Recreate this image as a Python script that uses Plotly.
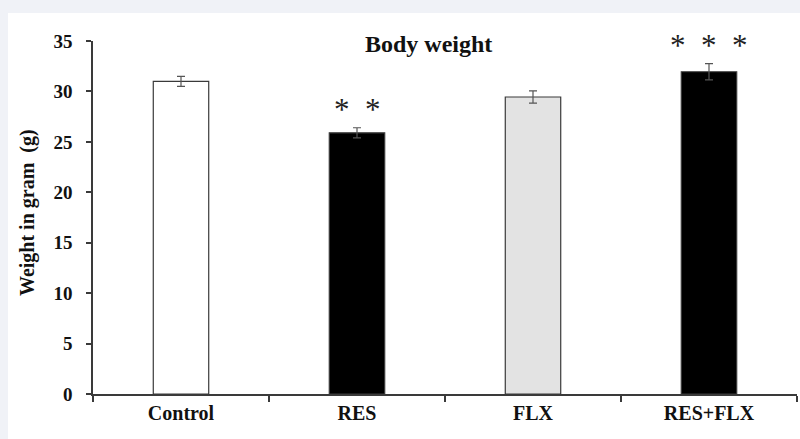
import plotly.graph_objects as go

categories = ["Control", "RES", "FLX", "RES+FLX"]
weights = [31.0, 25.9, 29.45, 31.95]
errors = [0.5, 0.5, 0.6, 0.8]
significance = ["", "* *", "", "* * *"]
bar_colors = ["#ffffff", "#000000", "#e3e3e3", "#000000"]
y_ticks = [0, 5, 10, 15, 20, 25, 30, 35]

W, H = 800, 439
ML, MR, MT, MB = 93, 3, 41, 45
pw, ph = W - ML - MR, H - MT - MB

SERIF = "Liberation Serif, Times New Roman, serif"

fig = go.Figure()
fig.add_trace(go.Bar(
    x=categories, y=weights, width=0.315,
    marker=dict(color=bar_colors, line=dict(color="#3a3a3a", width=1.2)),
    error_y=dict(type="data", array=errors, visible=True, color="#555555",
                 thickness=1.2, width=4),
    hoverinfo="skip", showlegend=False,
))

# white panel behind chart
fig.add_shape(type="rect", xref="paper", yref="paper", layer="below",
              x0=(8 - ML) / pw, x1=(W - ML) / pw + 0.01,
              y0=(ph - (H - MT)) / ph - 0.01, y1=(ph - (13 - MT)) / ph,
              fillcolor="#ffffff", line=dict(width=0))

annotations = []
for c, v, e, s in zip(categories, weights, errors, significance):
    if s:
        annotations.append(dict(
            x=c, y=v + e, xref="x", yref="y", text=s.replace(" ", "\u00a0\u00a0"),
            showarrow=False, yanchor="bottom", yshift=-1,
            font=dict(family=SERIF, size=31, color="#222222")))

annotations.append(dict(
    x=(428 - ML) / pw, y=(ph - (44 - MT)) / ph, xref="paper", yref="paper",
    text="<b>Body weight</b>", showarrow=False, xanchor="center", yanchor="middle",
    font=dict(family=SERIF, size=24, color="#111111")))
annotations.append(dict(
    x=(27 - ML) / pw, y=(ph - (213 - MT)) / ph, xref="paper", yref="paper",
    text="<b>Weight in gram  (g)</b>", showarrow=False, textangle=-90,
    xanchor="center", yanchor="middle",
    font=dict(family=SERIF, size=20, color="#111111")))

fig.update_layout(
    width=W, height=H,
    margin=dict(l=ML, r=MR, t=MT, b=MB, pad=0),
    paper_bgcolor="#f0f2f7", plot_bgcolor="rgba(0,0,0,0)",
    annotations=annotations,
    bargap=0.5,
)
fig.update_xaxes(
    range=[-0.5, 3.5], showgrid=False, zeroline=False,
    showline=True, linecolor="#3a3a3a", linewidth=1.5,
    ticks="outside", tickson="boundaries", ticklen=6, tickcolor="#3a3a3a", tickwidth=1.5,
    tickvals=categories, ticktext=[f"<b>{c}</b>" for c in categories],
    tickfont=dict(family=SERIF, size=20, color="#111111"),
)
fig.update_yaxes(
    range=[0, 35], showgrid=False, zeroline=False,
    showline=True, linecolor="#3a3a3a", linewidth=1.5,
    ticks="outside", ticklen=5, tickcolor="#3a3a3a", tickwidth=1.5,
    tickvals=y_ticks, ticktext=[f"<b>{t}</b>" for t in y_ticks],
    tickfont=dict(family=SERIF, size=19, color="#111111"),
    ticklabelstandoff=10,
)

fig.write_html("out.html")
